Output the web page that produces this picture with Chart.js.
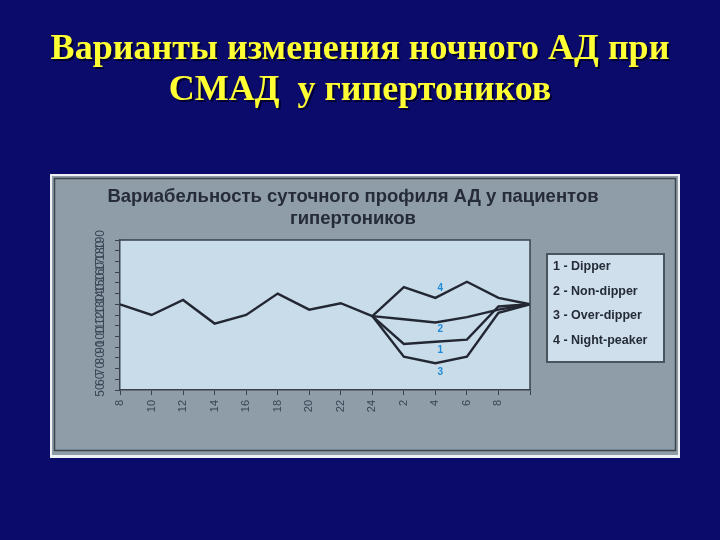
<!DOCTYPE html>
<html>
<head>
<meta charset="utf-8">
<script src="https://cdn.jsdelivr.net/npm/chart.js@4.4.0/dist/chart.umd.min.js"></script>
<style>
  html, body { margin: 0; padding: 0; background: #0b0b6b; }
  #wrap { width: 720px; height: 540px; }
</style>
</head>
<body>
<div id="wrap"><canvas id="c" width="720" height="540"></canvas></div>
<script>
// ---------- данные ----------
const hourLabels = ['8', '10', '12', '14', '16', '18', '20', '22', '24', '2', '4', '6', '8', ''];
const yTickValues = [50, 60, 70, 80, 90, 100, 110, 120, 130, 140, 150, 160, 170, 180, 190];

// дневной профиль (8 ... 24)
const dayBP = [130, 120, 134, 112, 120, 140, 125, 131, 119];
// ночные варианты (2, 4, 6, 8, 10)
const dipperBP = [93, 95, 97, 128, 130];
const nonDipperBP = [116, 113, 118, 125, 130];
const overDipperBP = [81, 75, 81, 122, 130];
const nightPeakerBP = [146, 136, 151, 136, 130];

const seriesNames = ['1 - Dipper', '2 - Non-dipper', '3 - Over-dipper', '4 - Night-peaker'];
const seriesMarks = ['1', '2', '3', '4'];

const slideTitle = ['Варианты изменения ночного АД при', 'СМАД  у гипертоников'];
const chartTitle = ['Вариабельность суточного профиля АД у пациентов', 'гипертоников'];

// ночная кривая начинается с последней дневной точки (24 ч)
function nightSeries(values) {
    return hourLabels.map((_, i) => {
        if (i < dayBP.length - 1) return null;
        if (i === dayBP.length - 1) return dayBP[i];
        return values[i - dayBP.length];
    });
}

const LINE = '#232733';
const TEXT = '#252b38';

function lineSet(label, data) {
    return {
        label: label,
        data: data,
        borderColor: LINE,
        borderWidth: 2.4,
        pointRadius: 0,
        tension: 0,
        fill: false
    };
}

// ---------- оформление слайда ----------
const decor = {
    id: 'decor',
    beforeDraw(chart) {
        const ctx = chart.ctx;
        const a = chart.chartArea;
        ctx.save();
        ctx.fillStyle = '#0b0b6b';
        ctx.fillRect(0, 0, chart.width, chart.height);
        // серая панель
        ctx.fillStyle = '#eef1f3';
        ctx.fillRect(50, 174, 630, 284);
        ctx.fillStyle = '#8e9da7';
        ctx.fillRect(52, 176, 626, 279);
        ctx.strokeStyle = '#3c444c';
        ctx.lineWidth = 1.5;
        ctx.strokeRect(54.5, 178.5, 621, 272);
        // область графика
        ctx.fillStyle = '#c8dcea';
        ctx.fillRect(a.left, a.top, a.right - a.left, a.bottom - a.top);
        ctx.restore();
    },
    afterDraw(chart) {
        const ctx = chart.ctx;
        const a = chart.chartArea;
        ctx.save();

        // рамка сверху и справа
        ctx.strokeStyle = '#3a4250';
        ctx.lineWidth = 1.5;
        ctx.beginPath();
        ctx.moveTo(a.left, a.top);
        ctx.lineTo(a.right, a.top);
        ctx.lineTo(a.right, a.bottom);
        ctx.stroke();

        // заголовок слайда
        ctx.textAlign = 'center';
        ctx.textBaseline = 'alphabetic';
        ctx.font = 'bold 36px "Liberation Serif", "Times New Roman", serif';
        ctx.fillStyle = '#000033';
        slideTitle.forEach((t, i) => ctx.fillText(t, 362, 61 + i * 41));
        ctx.fillStyle = '#ffff33';
        slideTitle.forEach((t, i) => ctx.fillText(t, 360, 59 + i * 41));

        // заголовок диаграммы
        ctx.font = 'bold 18.5px "Liberation Sans", Arial, sans-serif';
        ctx.fillStyle = TEXT;
        ctx.textBaseline = 'middle';
        chartTitle.forEach((t, i) => ctx.fillText(t, 353, 197 + i * 22));

        // подписи оси Y (повёрнутые)
        const ys = chart.scales.y;
        ctx.font = '12px "Liberation Sans", Arial, sans-serif';
        ctx.fillStyle = '#3a4555';
        yTickValues.forEach(v => {
            ctx.save();
            ctx.translate(101, ys.getPixelForValue(v));
            ctx.rotate(-Math.PI / 2);
            ctx.fillText(String(v), 0, 0);
            ctx.restore();
        });

        // номера кривых
        const offsets = [8, 7, 9, -10];
        ctx.font = 'bold 10px "Liberation Sans", Arial, sans-serif';
        ctx.fillStyle = '#1f8ad6';
        seriesMarks.forEach((m, k) => {
            const pt = chart.getDatasetMeta(k + 1).data[10];
            ctx.fillText(m, pt.x + 5, pt.y + offsets[k]);
        });

        // легенда
        ctx.fillStyle = '#cfe0ec';
        ctx.fillRect(547, 254, 117, 108);
        ctx.strokeStyle = '#4a545e';
        ctx.lineWidth = 2;
        ctx.strokeRect(547, 254, 117, 108);
        ctx.font = 'bold 12.5px "Liberation Sans", Arial, sans-serif';
        ctx.fillStyle = TEXT;
        ctx.textAlign = 'left';
        seriesNames.forEach((n, i) => ctx.fillText(n, 553, 267 + i * 24.5));

        ctx.restore();
    }
};

// ---------- диаграмма ----------
new Chart(document.getElementById('c'), {
    type: 'line',
    data: {
        labels: hourLabels,
        datasets: [
            lineSet('day', dayBP),
            lineSet(seriesNames[0], nightSeries(dipperBP)),
            lineSet(seriesNames[1], nightSeries(nonDipperBP)),
            lineSet(seriesNames[2], nightSeries(overDipperBP)),
            lineSet(seriesNames[3], nightSeries(nightPeakerBP))
        ]
    },
    options: {
        responsive: false,
        animation: false,
        layout: { padding: { left: 100, right: 190, top: 240, bottom: 120 } },
        plugins: {
            legend: { display: false },
            title: { display: false },
            tooltip: { enabled: false }
        },
        scales: {
            x: {
                offset: false,
                afterFit: s => { s.height = 30; },
                grid: { drawOnChartArea: false, color: '#3a4250', tickLength: 5 },
                border: { color: '#3a4250', width: 1.5 },
                ticks: {
                    autoSkip: false,
                    minRotation: 90,
                    maxRotation: 90,
                    padding: 5,
                    color: '#3a4555',
                    font: { family: '"Liberation Sans", Arial, sans-serif', size: 11 }
                }
            },
            y: {
                min: 50,
                max: 190,
                afterFit: s => { s.width = 20; },
                grid: { drawOnChartArea: false, color: '#3a4250', tickLength: 5 },
                border: { color: '#3a4250', width: 1.5 },
                ticks: { stepSize: 10, display: false }
            }
        }
    },
    plugins: [decor]
});
</script>
</body>
</html>
